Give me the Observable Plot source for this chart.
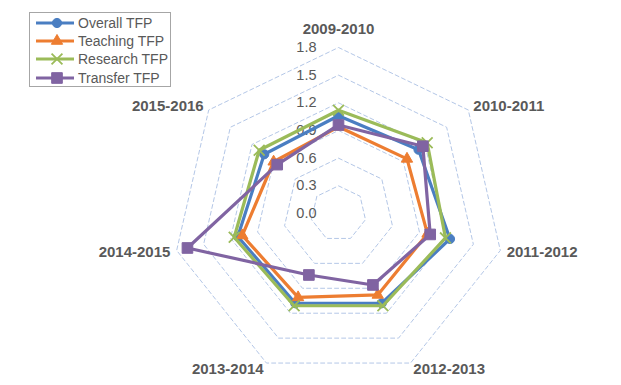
<!DOCTYPE html>
<html><head><meta charset="utf-8">
<script src="https://cdn.jsdelivr.net/npm/d3@7"></script>
<script src="https://cdn.jsdelivr.net/npm/@observablehq/plot@0.6"></script>
<style>
body{margin:0;background:#fff;}
#wrap{position:relative;width:621px;height:385px;}
#legend{position:absolute;left:29px;top:12px;width:142px;height:75px;border:1px solid #a6a6a6;background:#fff;box-sizing:border-box;font-family:"Liberation Sans",Arial,sans-serif;font-size:14px;color:#595959;}
.row{position:absolute;left:0;height:18px;width:140px;}
.row svg{position:absolute;left:0;top:0;}
.row span{position:absolute;left:48px;top:1px;line-height:16px;white-space:nowrap;}
</style></head>
<body><div id="wrap"><div id="legend"></div></div>
<script>
const categories = ["2009-2010","2010-2011","2011-2012","2012-2013","2013-2014","2014-2015","2015-2016"];
const seriesNames = ["Overall TFP","Teaching TFP","Research TFP","Transfer TFP"];
const overall  = [1.06, 1.11, 1.24, 1.08, 1.08, 1.12, 1.03];
const teaching = [0.94, 0.95, 0.99, 0.98, 1.01, 1.07, 0.90];
const research = [1.12, 1.23, 1.19, 1.11, 1.11, 1.16, 1.10];
const transfer = [0.96, 1.17, 1.02, 0.86, 0.74, 1.68, 0.85];
const tickValues = [0.0, 0.3, 0.6, 0.9, 1.2, 1.5, 1.8];

const seriesValues = [overall, teaching, research, transfer];
const colors = ["#4A7EC2", "#ED7D31", "#9BBB59", "#8064A2"];
const symbols = ["circle", "triangle", "times", "square"];
const radii = [4.6, 4.2, 5, 6];

const n = categories.length;
const ang = i => i * 2 * Math.PI / n;
const px = (i, v) => v * Math.sin(ang(i));
const py = (i, v) => v * Math.cos(ang(i));

const unit = 166 / 1.8;
const cx = 338, cy = 213, W = 621, H = 385;

const ringData = tickValues.filter(t => t > 0).flatMap(t => categories.map((c, i) => ({t, i})));

const labelR = 1.87;
const topR = 1.995;
const anchorOf = i => { const s = Math.sin(ang(i)); return s > 0.1 ? "start" : s < -0.1 ? "end" : "middle"; };

const marks = [
  Plot.line(ringData, {x: d => px(d.i, d.t), y: d => py(d.i, d.t), z: "t", curve: "linear-closed",
    stroke: "#b4c7e7", strokeWidth: 1, strokeDasharray: "4,3"}),
  Plot.text(tickValues, {x: () => 0, y: d => d, text: d => d.toFixed(1), textAnchor: "end", dx: -22,
    fill: "#595959", fontSize: 14.5}),
];
for (const a of ["start", "end", "middle"]) {
  marks.push(Plot.text(categories, {
    filter: (d, i) => anchorOf(i) === a,
    x: (d, i) => px(i, a === "middle" ? topR : labelR),
    y: (d, i) => py(i, a === "middle" ? topR : labelR),
    text: d => d, textAnchor: a, fill: "#595959", fontSize: 15, fontWeight: "bold"
  }));
}
seriesValues.forEach((vals, s) => {
  marks.push(Plot.line(categories, {
    x: (d, i) => px(i, vals[i]), y: (d, i) => py(i, vals[i]),
    curve: "linear-closed", stroke: colors[s], strokeWidth: 3.2, strokeLinejoin: "round"
  }));
  marks.push(Plot.dot(categories, {
    x: (d, i) => px(i, vals[i]), y: (d, i) => py(i, vals[i]),
    symbol: symbols[s], r: radii[s],
    fill: symbols[s] === "times" ? "none" : colors[s],
    stroke: colors[s], strokeWidth: symbols[s] === "times" ? 1.8 : 1
  }));
});

const chart = Plot.plot({
  width: W, height: H, margin: 0,
  x: {domain: [-cx / unit, (W - cx) / unit], axis: null},
  y: {domain: [-(H - cy) / unit, cy / unit], axis: null},
  style: {fontFamily: "'Liberation Sans', Arial, sans-serif", background: "#fff"},
  marks
});
const wrap = document.getElementById("wrap");
wrap.insertBefore(chart, wrap.firstChild);

// Legend
const legend = document.getElementById("legend");
const symMap = {circle: d3.symbolCircle, triangle: d3.symbolTriangle, times: d3.symbolTimes, square: d3.symbolSquare};
seriesNames.forEach((name, s) => {
  const row = document.createElement("div");
  row.className = "row";
  row.style.top = (1 + s * 18.2) + "px";
  const svg = d3.create("svg").attr("width", 48).attr("height", 18);
  svg.append("line").attr("x1", 6).attr("x2", 44).attr("y1", 9).attr("y2", 9)
    .attr("stroke", colors[s]).attr("stroke-width", 3.2);
  const isTimes = symbols[s] === "times";
  svg.append("path").attr("transform", "translate(27,9)")
    .attr("d", d3.symbol(symMap[symbols[s]], Math.PI * radii[s] * radii[s])())
    .attr("fill", isTimes ? "none" : colors[s]).attr("stroke", colors[s]).attr("stroke-width", isTimes ? 1.8 : 1);
  row.appendChild(svg.node());
  const span = document.createElement("span");
  span.textContent = name;
  row.appendChild(span);
  legend.appendChild(row);
});
</script>
</body></html>
